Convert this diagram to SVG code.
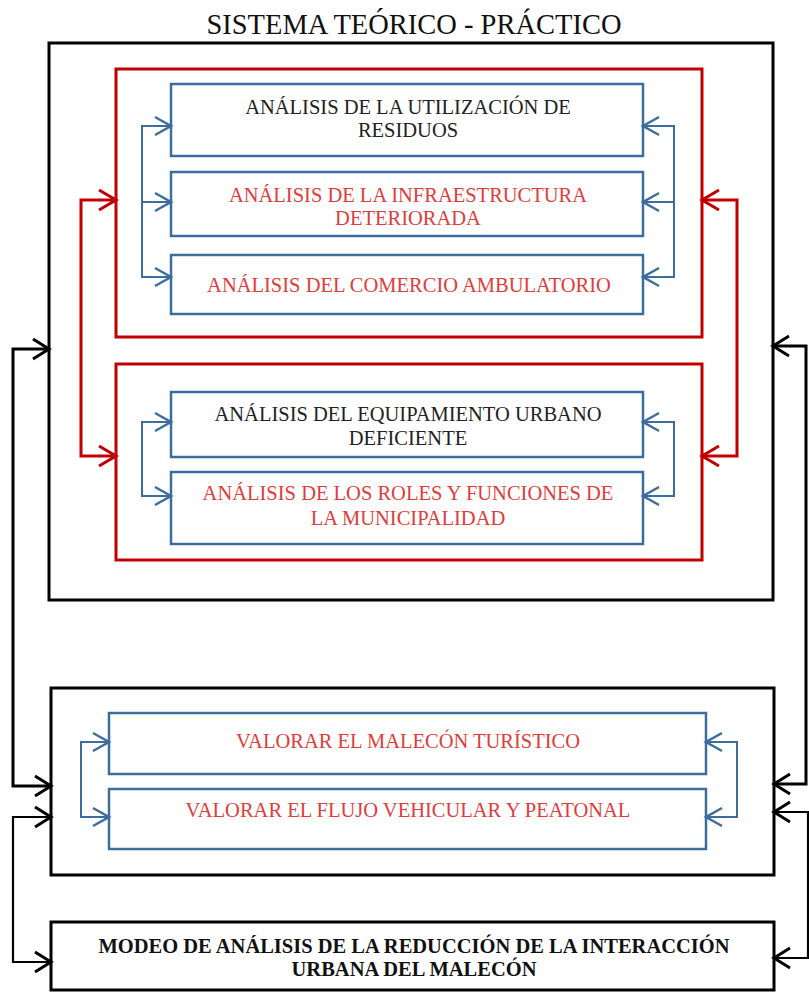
<svg xmlns="http://www.w3.org/2000/svg" width="809" height="993" viewBox="0 0 809 993">
<defs>
<marker id="ab" markerUnits="userSpaceOnUse" markerWidth="24" markerHeight="24" viewBox="-20 -12 24 24" refX="0" refY="0" orient="auto-start-reverse"><path d="M-16,-9 L0,0 L-16,9" fill="none" stroke="#3d6d9c" stroke-width="2.5"/></marker>
<marker id="ar" markerUnits="userSpaceOnUse" markerWidth="24" markerHeight="26" viewBox="-20 -13 24 26" refX="0" refY="0" orient="auto-start-reverse"><path d="M-17,-10 L0,0 L-17,10" fill="none" stroke="#c00000" stroke-width="3"/></marker>
<marker id="ak" markerUnits="userSpaceOnUse" markerWidth="24" markerHeight="26" viewBox="-20 -13 24 26" refX="0" refY="0" orient="auto-start-reverse"><path d="M-16,-10 L0,0 L-16,10" fill="none" stroke="#000" stroke-width="3"/></marker>
</defs>
<style>
.kb{fill:#fff;stroke:#000;stroke-width:3}
.rb{fill:none;stroke:#c00000;stroke-width:3}
.bb{fill:#fff;stroke:#3d6d9c;stroke-width:2.5}
.t{font-family:"Liberation Serif","Times New Roman",serif;font-size:20.5px;text-anchor:middle}
.tk{fill:#222}
.tr{fill:#e03c3c}
.cb{fill:none;stroke:#3d6d9c;stroke-width:2}
.cr{fill:none;stroke:#c00000;stroke-width:3}
.ck{fill:none;stroke:#000;stroke-width:3}
</style>
<text x="414" y="34" class="t" style="font-size:28.5px;fill:#111">SISTEMA TEÓRICO - PRÁCTICO</text>
<g id="sistema"><rect x="49" y="43" width="724" height="557" class="kb"/></g>
<g id="grupo1"><rect x="116" y="69" width="586" height="268" class="rb"/></g>
<g id="grupo2"><rect x="116" y="364" width="586" height="196" class="rb"/></g>
<g id="n1"><rect x="171" y="84" width="472" height="72" class="bb"/>
<text class="t tk" x="408" y="114">ANÁLISIS DE LA UTILIZACIÓN DE</text><text class="t tk" x="408" y="137">RESIDUOS</text></g>
<g id="n2"><rect x="171" y="172" width="472" height="64" class="bb"/>
<text class="t tr" x="408" y="202">ANÁLISIS DE LA INFRAESTRUCTURA</text><text class="t tr" x="408" y="225">DETERIORADA</text></g>
<g id="n3"><rect x="171" y="255" width="472" height="59" class="bb"/>
<text class="t tr" x="409" y="292">ANÁLISIS DEL COMERCIO AMBULATORIO</text></g>
<g id="n4"><rect x="171" y="392" width="472" height="65" class="bb"/>
<text class="t tk" x="408" y="421">ANÁLISIS DEL EQUIPAMIENTO URBANO</text><text class="t tk" x="408" y="445">DEFICIENTE</text></g>
<g id="n5"><rect x="171" y="472" width="472" height="72" class="bb"/>
<text class="t tr" x="408" y="500">ANÁLISIS DE LOS ROLES Y FUNCIONES DE</text><text class="t tr" x="408" y="525">LA MUNICIPALIDAD</text></g>
<g id="valorar"><rect x="51" y="688" width="723" height="187" class="kb"/></g>
<g id="n6"><rect x="109" y="713" width="597" height="61" class="bb"/>
<text class="t tr" x="408" y="748">VALORAR EL MALECÓN TURÍSTICO</text></g>
<g id="n7"><rect x="109" y="789" width="597" height="60" class="bb"/>
<text class="t tr" x="408" y="817">VALORAR EL FLUJO VEHICULAR Y PEATONAL</text></g>
<g id="modelo"><rect x="51" y="922" width="723" height="68" class="kb"/>
<text class="t" style="font-weight:bold;fill:#111" x="414" y="953">MODEO DE ANÁLISIS DE LA REDUCCIÓN DE LA INTERACCIÓN</text><text class="t" style="font-weight:bold;fill:#111" x="414" y="976">URBANA DEL MALECÓN</text></g>
<g id="connectors">
<path class="cb" d="M171,126 H142 V277 H171" marker-start="url(#ab)" marker-end="url(#ab)"/>
<path class="cb" d="M142,202 H171" marker-end="url(#ab)"/>
<path class="cb" d="M643,126 H674 V277 H643" marker-start="url(#ab)" marker-end="url(#ab)"/>
<path class="cb" d="M674,202 H643" marker-end="url(#ab)"/>
<path class="cb" d="M171,422 H142 V496 H171" marker-start="url(#ab)" marker-end="url(#ab)"/>
<path class="cb" d="M643,422 H674 V496 H643" marker-start="url(#ab)" marker-end="url(#ab)"/>
<path class="cb" d="M109,742 H81 V817 H109" marker-start="url(#ab)" marker-end="url(#ab)"/>
<path class="cb" d="M706,742 H737 V817 H706" marker-start="url(#ab)" marker-end="url(#ab)"/>
<path class="cr" d="M116,200 H81 V456 H116" marker-start="url(#ar)" marker-end="url(#ar)"/>
<path class="cr" d="M702,200 H737 V456 H702" marker-start="url(#ar)" marker-end="url(#ar)"/>
<path class="ck" d="M49,349 H13 V786 H51" marker-start="url(#ak)" marker-end="url(#ak)"/>
<path class="ck" style="stroke-width:2.2" d="M51,817 H13 V962 H51" marker-start="url(#ak)" marker-end="url(#ak)"/>
<path class="ck" d="M773,346 H806 V784 H774" marker-start="url(#ak)" marker-end="url(#ak)"/>
<path class="ck" style="stroke-width:2.2" d="M774,812 H808 V958 H774" marker-start="url(#ak)" marker-end="url(#ak)"/>
</g>
</svg>
